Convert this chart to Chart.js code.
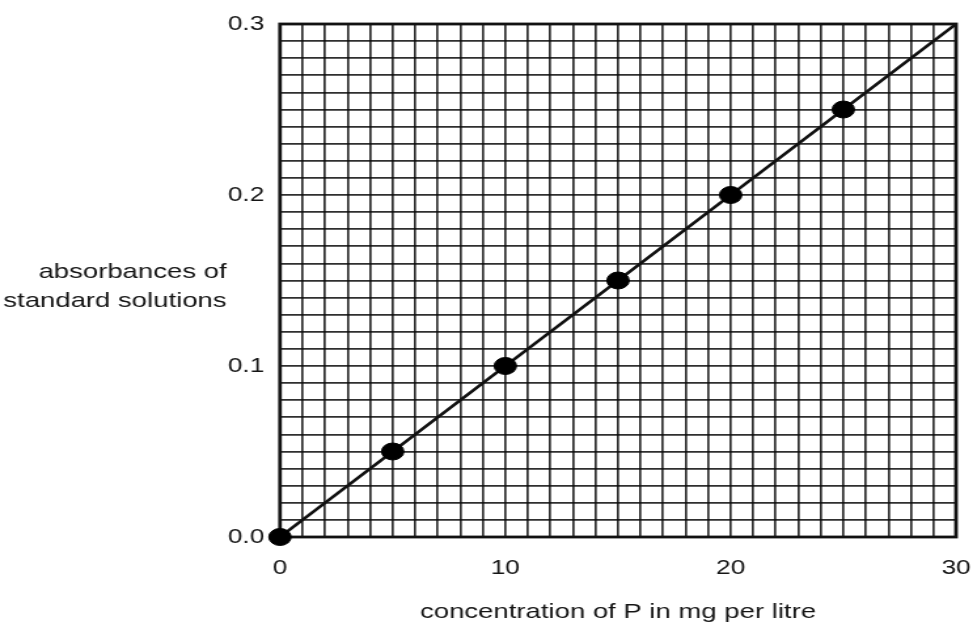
<!DOCTYPE html>
<html>
<head>
<meta charset="utf-8">
<script src="https://cdn.jsdelivr.net/npm/chart.js@4.4.1/dist/chart.umd.min.js"></script>
<style>
  html, body { margin: 0; padding: 0; background: #fff; overflow: hidden; }
  /* the scanned original is stretched sideways, so the chart is too */
  #wrap { width: 743px; height: 628px; transform: scaleX(1.3096); transform-origin: 0 0; }
</style>
</head>
<body>
<div id="wrap"><canvas id="chartCanvas"></canvas></div>
<script>
const concentrations = [0, 5, 10, 15, 20, 25];
const absorbances = [0, 0.05, 0.10, 0.15, 0.20, 0.25];
const lineX = [0, 30];
const lineY = [0, 0.3];
const xTickLabels = ["0", "10", "20", "30"];
const yTickLabels = ["0.0", "0.1", "0.2", "0.3"];
const yTitleLines = ["absorbances of", "standard solutions"];
const xTitle = "concentration of P in mg per litre";

const fontFamily = "'Liberation Sans', Arial, Helvetica, sans-serif";

// y title sits flat to the left of the axis, so draw it by hand
const sideTitle = {
    id: "sideTitle",
    beforeDatasetsDraw(chart) {
        const ctx = chart.ctx;
        const a = chart.chartArea;
        ctx.save();
        ctx.strokeStyle = "#111";
        ctx.lineWidth = 2.8;
        ctx.strokeRect(a.left, a.top, a.right - a.left, a.bottom - a.top);
        ctx.restore();
    },
    afterDraw(chart) {
        const ctx = chart.ctx;
        ctx.save();
        ctx.font = "21px " + fontFamily;
        ctx.fillStyle = "#151515";
        ctx.textAlign = "right";
        ctx.textBaseline = "middle";
        ctx.fillText(yTitleLines[0], 173, 272);
        ctx.fillText(yTitleLines[1], 173, 301);
        ctx.restore();
    }
};

const chartCanvas = document.getElementById("chartCanvas");
const chart = new Chart(chartCanvas, {
    type: "scatter",
    data: {
        datasets: [{
            label: "standards",
            data: concentrations.map((c, i) => ({x: c, y: absorbances[i]})),
            showLine: false,
            pointRadius: 8.5,
            pointHoverRadius: 8.5,
            pointBackgroundColor: "#000",
            pointBorderColor: "#000",
            clip: false
        }, {
            label: "fit",
            data: lineX.map((c, i) => ({x: c, y: lineY[i]})),
            showLine: true,
            borderColor: "#111",
            borderWidth: 2.6,
            pointRadius: 0,
            clip: false
        }]
    },
    options: {
        responsive: true,
        maintainAspectRatio: false,
        animation: false,
        layout: {
            padding: {left: 0, right: 13, top: 22, bottom: 0}
        },
        plugins: {
            legend: {display: false},
            tooltip: {enabled: false}
        },
        scales: {
            x: {
                type: "linear",
                min: 0,
                max: 30,
                afterFit: (scale) => {
                    scale.height = 91;
                    scale.paddingLeft = 0;
                    scale.paddingRight = 0;
                },
                border: {display: false},
                grid: {
                    color: "rgba(10,10,10,0.85)",
                    lineWidth: 1.7,
                    drawTicks: false
                },
                ticks: {
                    stepSize: 1,
                    autoSkip: false,
                    maxRotation: 0,
                    padding: 19,
                    color: "#151515",
                    font: {family: fontFamily, size: 20},
                    callback: (v) => (v % 10 === 0 ? xTickLabels[v / 10] : "")
                },
                title: {
                    display: true,
                    text: xTitle,
                    color: "#151515",
                    font: {family: fontFamily, size: 21},
                    padding: {top: 0, bottom: 3}
                }
            },
            y: {
                min: 0,
                max: 0.3,
                afterFit: (scale) => { scale.width = 213.8; },
                border: {display: false},
                grid: {
                    color: "rgba(10,10,10,0.85)",
                    lineWidth: 1.7,
                    drawTicks: false
                },
                ticks: {
                    stepSize: 0.01,
                    autoSkip: false,
                    padding: 12,
                    color: "#151515",
                    font: {family: fontFamily, size: 20},
                    callback: (v) => {
                        const k = Math.round(v * 10);
                        return Math.abs(v * 10 - k) < 1e-6 ? yTickLabels[k] : "";
                    }
                }
            }
        }
    },
    plugins: [sideTitle]
});
</script>
</body>
</html>
